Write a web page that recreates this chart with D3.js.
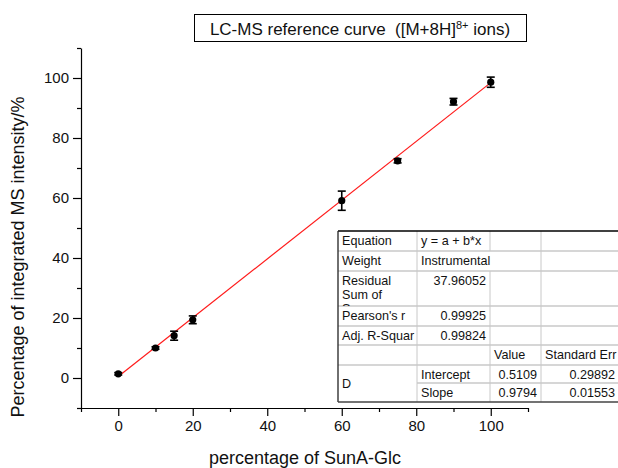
<!DOCTYPE html>
<html>
<head>
<meta charset="utf-8">
<script src="https://cdn.jsdelivr.net/npm/d3@7"></script>
<style>
  html, body { margin: 0; padding: 0; background: #fff; }
  svg { display: block; font-family: "Liberation Sans", Arial, sans-serif; }
</style>
</head>
<body>
<svg id="chart" width="618" height="468"></svg>
<script>
// Measured concentrations (% SunA-Glc) and normalised MS intensities
const xValues = [0, 10, 15, 20, 60, 75, 90, 100];
const yValues = [1.4, 10.0, 14.1, 19.4, 59.1, 72.4, 92.1, 98.6];
const yErrors = [0.4, 0.4, 1.5, 1.3, 3.2, 0.7, 1.1, 1.7];

// Linear fit parameters (weighted by instrumental error)
const fitIntercept = 0.5109;
const fitSlope = 0.9794;

const xMajorTicks = [0, 20, 40, 60, 80, 100];
const xMinorTicks = [-10, 10, 30, 50, 70, 90, 110];
const yMajorTicks = [0, 20, 40, 60, 80, 100];
const yMinorTicks = [-10, 10, 30, 50, 70, 90, 110];

// Fit-report table rows
const tableRows = [
  ["Equation", "y = a + b*x", "", ""],
  ["Weight", "Instrumental", "", ""],
  ["Residual\nSum of\nSquares", "37.96052", "", ""],
  ["Pearson's r", "0.99925", "", ""],
  ["Adj. R-Squar", "0.99824", "", ""],
  ["", "", "Value", "Standard Err"],
  ["D", "Intercept", "0.5109", "0.29892"],
  ["", "Slope", "0.9794", "0.01553"]
];

const svg = d3.select("#chart");

const x = d3.scaleLinear().domain([-10, 110]).range([81, 528]);
const y = d3.scaleLinear().domain([-10, 110]).range([408, 48]);

const axisG = svg.append("g");

// bottom axis
const xAxisMajor = d3.axisBottom(x).tickValues(xMajorTicks).tickSize(8).tickSizeOuter(0).tickPadding(4);
const xAxisMinor = d3.axisBottom(x).tickValues(xMinorTicks).tickSize(4).tickSizeOuter(0).tickFormat("");
const gx = axisG.append("g").attr("transform", `translate(0,${y(-10)})`).call(xAxisMajor);
axisG.append("g").attr("transform", `translate(0,${y(-10)})`).call(xAxisMinor).select(".domain").remove();

// left axis
const yAxisMajor = d3.axisLeft(y).tickValues(yMajorTicks).tickSize(8).tickSizeOuter(0).tickPadding(4);
const yAxisMinor = d3.axisLeft(y).tickValues(yMinorTicks).tickSize(4).tickSizeOuter(0).tickFormat("");
const gy = axisG.append("g").attr("transform", `translate(${x(-10)},0)`).call(yAxisMajor);
axisG.append("g").attr("transform", `translate(${x(-10)},0)`).call(yAxisMinor).select(".domain").remove();

axisG.selectAll(".domain, .tick line").attr("stroke", "#000").attr("stroke-width", 1.2);
axisG.selectAll(".tick text")
  .attr("fill", "#111")
  .style("font-size", "15px")
  .style("font-family", "'Liberation Sans', Arial, sans-serif");

// axis titles
svg.append("text")
  .attr("transform", "translate(24,257) rotate(-90)")
  .attr("text-anchor", "middle")
  .style("font-size", "18px")
  .attr("fill", "#111")
  .text("Percentage of integrated MS intensity/%");

svg.append("text")
  .attr("x", 305)
  .attr("y", 464)
  .attr("text-anchor", "middle")
  .style("font-size", "18px")
  .attr("fill", "#111")
  .text("percentage of SunA-Glc");

// chart title in a box
svg.append("rect")
  .attr("x", 194.5).attr("y", 14.5)
  .attr("width", 332).attr("height", 27)
  .attr("fill", "#fff").attr("stroke", "#000").attr("stroke-width", 1);

const title = svg.append("text")
  .attr("x", 360).attr("y", 35)
  .attr("text-anchor", "middle")
  .style("font-size", "17px")
  .attr("fill", "#111");
title.append("tspan").text("LC-MS reference curve\u00a0\u00a0([M+8H]");
title.append("tspan").attr("dy", -6).style("font-size", "11px").text("8+");
title.append("tspan").attr("dy", 6).text(" ions)");

// fitted line
const fitLine = d3.line().x(d => x(d)).y(d => y(fitIntercept + fitSlope * d));
svg.append("path")
  .datum([0, 100])
  .attr("d", fitLine)
  .attr("fill", "none")
  .attr("stroke", "#ff1a1a")
  .attr("stroke-width", 1.2);

// data points with error bars
const pts = xValues.map((v, i) => ({ x: v, y: yValues[i], e: yErrors[i] }));
const eb = svg.append("g").attr("stroke", "#000").attr("stroke-width", 1.6);
eb.selectAll("line.v").data(pts).join("line")
  .attr("x1", d => x(d.x)).attr("x2", d => x(d.x))
  .attr("y1", d => y(d.y - d.e)).attr("y2", d => y(d.y + d.e));
eb.selectAll("line.top").data(pts).join("line")
  .attr("x1", d => x(d.x) - 4).attr("x2", d => x(d.x) + 4)
  .attr("y1", d => y(d.y + d.e)).attr("y2", d => y(d.y + d.e));
eb.selectAll("line.bot").data(pts).join("line")
  .attr("x1", d => x(d.x) - 4).attr("x2", d => x(d.x) + 4)
  .attr("y1", d => y(d.y - d.e)).attr("y2", d => y(d.y - d.e));

svg.append("g").selectAll("circle").data(pts).join("circle")
  .attr("cx", d => x(d.x)).attr("cy", d => y(d.y))
  .attr("r", 3.6)
  .attr("fill", "#000");

// fit-report table
const colX = [338, 417, 490, 541, 640];
const rowY = [231, 251, 271, 306, 326, 345, 365, 383, 402];
const tbl = svg.append("g");
tbl.append("rect")
  .attr("x", colX[0]).attr("y", rowY[0])
  .attr("width", 618 - colX[0]).attr("height", rowY[8] - rowY[0])
  .attr("fill", "#fff");

const defs = svg.append("defs");
defs.append("clipPath").attr("id", "residCell")
  .append("rect").attr("x", colX[0]).attr("y", rowY[2]).attr("width", colX[1] - colX[0]).attr("height", rowY[3] - rowY[2]);

const grid = tbl.append("g").attr("stroke", "#c8c8c8").attr("stroke-width", 1.5);
// horizontal separators (rows 1..7)
for (let r = 1; r < 8; r++) {
  const x0 = r === 7 ? colX[1] : colX[0];
  grid.append("line").attr("x1", x0).attr("x2", 618).attr("y1", rowY[r]).attr("y2", rowY[r]);
}
// vertical separators
grid.append("line").attr("x1", colX[1]).attr("x2", colX[1]).attr("y1", rowY[0]).attr("y2", rowY[8]).attr("stroke-width", 1);
[2, 3].forEach(c => {
  // the Weight row lets "Instrumental" run across column 3
  grid.append("line").attr("x1", colX[c]).attr("x2", colX[c]).attr("y1", rowY[0]).attr("y2", rowY[1]).attr("stroke-width", 1);
  grid.append("line").attr("x1", colX[c]).attr("x2", colX[c]).attr("y1", rowY[c === 2 ? 2 : 1]).attr("y2", rowY[8]).attr("stroke-width", 1);
});
// outer frame
tbl.append("line").attr("x1", colX[0]).attr("x2", 618).attr("y1", rowY[0]).attr("y2", rowY[0]).attr("stroke", "#000").attr("stroke-width", 1.3);
tbl.append("line").attr("x1", colX[0]).attr("x2", colX[0]).attr("y1", rowY[0]).attr("y2", rowY[8]).attr("stroke", "#222").attr("stroke-width", 1.3);
tbl.append("line").attr("x1", colX[0]).attr("x2", 618).attr("y1", rowY[8]).attr("y2", rowY[8]).attr("stroke", "#444").attr("stroke-width", 1.5);

const cellText = tbl.append("g").style("font-size", "12.6px").attr("fill", "#111");
const numericCol = (r, c) => c > 0 && r !== 5 && !(c === 1 && (r === 0 || r === 1 || r >= 6));
tableRows.forEach((row, r) => {
  row.forEach((txt, c) => {
    if (!txt) return;
    if (r === 6 && c === 0) {
      cellText.append("text").attr("x", colX[0] + 4).attr("y", 388).text(txt);
      return;
    }
    const lines = txt.split("\n");
    const right = numericCol(r, c);
    const t = cellText.append("text")
      .attr("x", right ? colX[c + 1] - 4 : colX[c] + 4)
      .attr("y", rowY[r] + 14)
      .attr("text-anchor", right ? "end" : "start");
    if (lines.length > 1) t.attr("clip-path", "url(#residCell)");
    lines.forEach((ln, k) => {
      t.append("tspan").attr("x", right ? colX[c + 1] - 4 : colX[c] + 4).attr("dy", k === 0 ? 0 : 14).text(ln);
    });
  });
});
// right-aligned numbers in the last column sit inside the visible area
cellText.selectAll("text").filter(function () { return d3.select(this).attr("x") > 618; })
  .attr("x", 615).selectAll("tspan").attr("x", 615);
</script>
</body>
</html>
